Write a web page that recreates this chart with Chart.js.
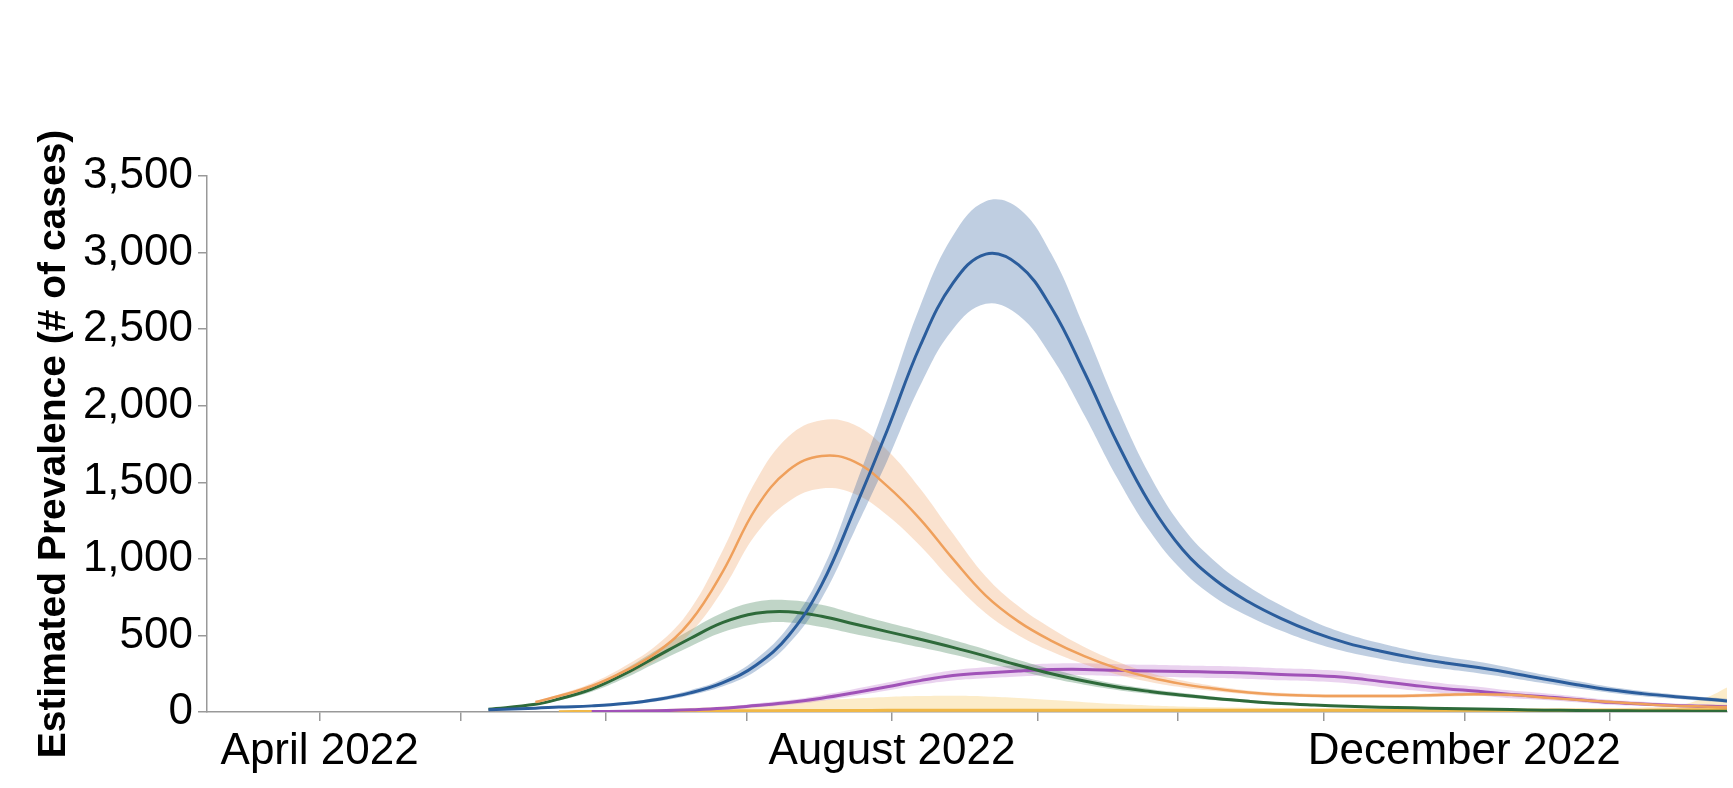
<!DOCTYPE html>
<html>
<head>
<meta charset="utf-8">
<script src="https://cdn.jsdelivr.net/npm/chart.js@4.4.1/dist/chart.umd.min.js"></script>
<style>
  html, body { margin: 0; padding: 0; background: #fff; }
  #wrap { width: 1733px; height: 788px; position: relative; }
</style>
</head>
<body>
<div id="wrap"><canvas id="prevalenceChart"></canvas></div>
<script>
// days counted from 1 April 2022
const days = [36, 46, 51, 58, 65, 72, 79, 86, 93, 100, 107, 114, 121, 128, 135, 142, 149, 156, 163, 170,
              177, 184, 191, 198, 205, 212, 219, 226, 233, 240, 247, 254, 261, 268, 275, 282, 289, 296, 300];

const monthDays = [0, 30, 61, 91, 122, 153, 183, 214, 244, 275];
const monthLabels = ["April 2022", "", "", "", "August 2022", "", "", "", "December 2022", ""];

const yTicks = [0, 500, 1000, 1500, 2000, 2500, 3000, 3500];

// blue series
const blueMid = [15, 25, 32, 40, 55, 82, 125, 192, 305, 500, 830, 1320, 1840, 2390, 2800, 2990, 2920, 2640, 2220, 1760,
                 1360, 1060, 860, 720, 610, 520, 450, 398, 355, 320, 290, 255, 215, 178, 145, 120, 100, 83, 72];
const blueHigh = [18, 29, 37, 46, 63, 94, 142, 215, 345, 560, 915, 1460, 2040, 2650, 3110, 3335, 3290, 2990, 2510, 1995,
                  1545, 1205, 980, 820, 695, 590, 510, 450, 400, 360, 328, 288, 243, 202, 165, 137, 115, 96, 86];
const blueLow = [12, 21, 27, 34, 47, 70, 110, 168, 268, 445, 740, 1180, 1640, 2130, 2500, 2665, 2590, 2320, 1940, 1530,
                 1180, 920, 745, 625, 530, 452, 392, 348, 310, 280, 253, 222, 187, 155, 126, 103, 86, 70, 60];

// orange series
const orangeMid = [null, 65, 104, 170, 267, 391, 590, 920, 1330, 1580, 1672, 1635, 1475, 1260, 1000, 760, 590, 465, 365, 285,
                   225, 182, 152, 128, 113, 106, 104, 104, 106, 112, 116, 112, 95, 80, 65, 52, 41, 35, 32];
const orangeHigh = [null, 72, 115, 188, 298, 440, 670, 1060, 1510, 1800, 1905, 1875, 1710, 1460, 1165, 885, 690, 545, 425, 330,
                    255, 205, 168, 141, 125, 118, 116, 116, 118, 124, 128, 124, 106, 90, 74, 60, 48, 41, 38];
const orangeLow = [null, 58, 94, 153, 238, 345, 515, 800, 1160, 1375, 1460, 1425, 1285, 1085, 850, 645, 500, 395, 312, 245,
                   196, 160, 136, 115, 101, 95, 93, 93, 95, 100, 104, 100, 84, 70, 56, 44, 34, 29, 27];

// green series
const greenMid = [18, 50, 85, 150, 248, 365, 480, 585, 645, 655, 625, 575, 525, 475, 422, 365, 305, 250, 202, 163,
                  134, 110, 88, 70, 55, 45, 37, 31, 27, 23, 20, 16, 12, 10, 8, 7, 6, 5, 5];
const greenHigh = [20, 56, 95, 168, 278, 408, 535, 650, 720, 730, 700, 642, 585, 530, 470, 408, 340, 280, 226, 183,
                   151, 124, 100, 80, 63, 52, 43, 36, 31, 27, 23, 19, 15, 12, 10, 9, 8, 7, 7];
const greenLow = [16, 45, 76, 133, 220, 325, 428, 522, 575, 585, 555, 510, 467, 422, 375, 323, 270, 220, 178, 144,
                  118, 97, 77, 61, 48, 39, 32, 27, 23, 20, 17, 14, 10, 8, 7, 6, 5, 4, 4];

// purple series
const purpleMid = [null, null, null, 3, 5, 8, 14, 24, 42, 62, 90, 126, 165, 205, 238, 255, 268, 277, 278, 272,
                   268, 264, 260, 254, 245, 238, 225, 200, 175, 152, 135, 114, 100, 82, 63, 52, 42, 37, 35];
const purpleHigh = [null, null, null, 5, 8, 12, 20, 33, 55, 78, 110, 150, 192, 235, 272, 292, 306, 316, 318, 312,
                    308, 304, 300, 294, 285, 278, 265, 238, 210, 185, 165, 140, 123, 102, 80, 67, 55, 49, 47];
const purpleLow = [null, null, null, 1, 2, 5, 9, 16, 30, 47, 72, 104, 140, 178, 206, 220, 232, 240, 240, 234,
                   230, 226, 222, 216, 207, 200, 187, 164, 142, 122, 108, 90, 79, 64, 48, 39, 31, 27, 25];

// yellow series
const yellowMid = [null, null, 2, 3, 4, 5, 6, 7, 8, 9, 10, 10, 11, 11, 11, 11, 11, 11, 11, 11,
                   11, 11, 11, 11, 11, 11, 11, 11, 11, 11, 11, 11, 11, 11, 11, 12, 13, 15, 16];
const yellowHigh = [null, null, 5, 8, 12, 18, 26, 36, 48, 62, 76, 88, 98, 104, 106, 102, 92, 78, 64, 52,
                    43, 36, 31, 28, 26, 24, 23, 22, 22, 22, 22, 22, 23, 24, 26, 30, 40, 100, 160];
const yellowLow = [null, null, 0, 0, 0, 0, 0, 0, 0, 0, 0, 0, 0, 0, 0, 0, 0, 0, 0, 0,
                   0, 0, 0, 0, 0, 0, 0, 0, 0, 0, 0, 0, 0, 0, 0, 0, 0, 0, 0];

const series = [
    { mid: blueMid, high: blueHigh, low: blueLow, line: "#2b5d9c", band: "rgba(43,93,156,0.30)", width: 3 },
    { mid: orangeMid, high: orangeHigh, low: orangeLow, line: "#efa05c", band: "rgba(240,160,96,0.30)", width: 2.5 },
    { mid: greenMid, high: greenHigh, low: greenLow, line: "#2e6a3a", band: "rgba(60,125,80,0.32)", width: 3 },
    { mid: purpleMid, high: purpleHigh, low: purpleLow, line: "#a052b8", band: "rgba(170,80,190,0.25)", width: 3 },
    { mid: yellowMid, high: yellowHigh, low: yellowLow, line: "#f0b848", band: "rgba(245,200,100,0.35)", width: 3 }
];

function pts(arr) {
    return days.map((d, i) => ({ x: d, y: arr[i] }));
}

const lineSets = [];
const bandSets = [];
series.forEach(s => {
    lineSets.push({
        data: pts(s.mid), borderColor: s.line, borderWidth: s.width,
        pointRadius: 0, fill: false, tension: 0.4
    });
});
series.forEach(s => {
    // upper edge fills down to the lower edge that follows it
    bandSets.push({
        data: pts(s.high), borderWidth: 0, borderColor: "transparent", backgroundColor: s.band,
        pointRadius: 0, fill: "+1", tension: 0.4
    });
    bandSets.push({
        data: pts(s.low), borderWidth: 0, borderColor: "transparent",
        pointRadius: 0, fill: false, tension: 0.4
    });
});

const axisGray = "#999";
const fontFamily = "'Liberation Sans', Arial, Helvetica, sans-serif";

new Chart(document.getElementById("prevalenceChart").getContext("2d"), {
    type: "line",
    data: { datasets: lineSets.concat(bandSets) },
    options: {
        responsive: true,
        maintainAspectRatio: false,
        animation: false,
        layout: { padding: { left: 0, right: 6, top: 176, bottom: 0 } },
        plugins: {
            legend: { display: false },
            tooltip: { enabled: false },
            filler: { propagate: false, drawTime: "beforeDatasetsDraw" }
        },
        scales: {
            x: {
                type: "linear",
                min: -24,
                max: 300,
                afterBuildTicks: scale => { scale.ticks = monthDays.map(v => ({ value: v })); },
                afterFit: scale => { scale.height = 76; },
                ticks: {
                    autoSkip: false,
                    maxRotation: 0,
                    padding: 4,
                    color: "#000",
                    font: { family: fontFamily, size: 44 },
                    callback: value => {
                        const i = monthDays.indexOf(value);
                        return i >= 0 ? monthLabels[i] : "";
                    }
                },
                grid: { display: true, drawOnChartArea: false, drawTicks: true, tickLength: 9, color: axisGray, lineWidth: 1.5 },
                border: { display: true, color: axisGray, width: 1.5 }
            },
            y: {
                min: 0,
                max: 3500,
                afterBuildTicks: scale => { scale.ticks = yTicks.map(v => ({ value: v })); },
                afterFit: scale => { scale.width = 207; },
                ticks: {
                    padding: 5,
                    color: "#000",
                    font: { family: fontFamily, size: 44 },
                    callback: value => value.toLocaleString("en-US")
                },
                grid: { display: true, drawOnChartArea: false, drawTicks: true, tickLength: 9, color: axisGray, lineWidth: 1.5 },
                border: { display: true, color: axisGray, width: 1.5 },
                title: {
                    display: true,
                    text: "Estimated Prevalence (# of cases)",
                    color: "#000",
                    padding: { top: 31, bottom: 0 },
                    font: { family: fontFamily, size: 39, weight: "bold" }
                }
            }
        }
    }
});
</script>
</body>
</html>
